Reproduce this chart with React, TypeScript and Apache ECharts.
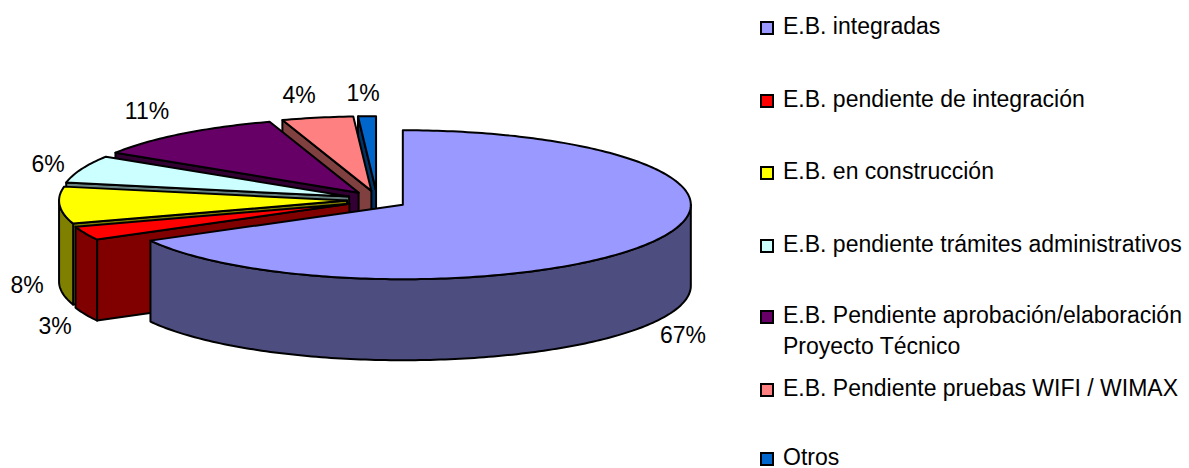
import React, { useEffect, useRef } from "react";
import * as echarts from "echarts";

// Shares of each base-station status, in percent, in legend order.
const categories = [
  ["E.B. integradas"],
  ["E.B. pendiente de integración"],
  ["E.B. en construcción"],
  ["E.B. pendiente trámites administrativos"],
  ["E.B. Pendiente aprobación/elaboración", "Proyecto Técnico"],
  ["E.B. Pendiente pruebas WIFI / WIMAX"],
  ["Otros"],
];
const shares = [67, 3, 8, 6, 11, 4, 1];
const topColors = ["#9999FF", "#FF0000", "#FFFF00", "#CCFFFF", "#660066", "#FF8080", "#0066CC"];
const sideColors = ["#4D4D80", "#800000", "#808000", "#668080", "#330033", "#804040", "#003366"];

// Placement of the percentage labels and legend rows.
const labelAnchors: [number, number][] = [
  [683, 334], [55, 325], [27, 284], [48, 163], [147, 110], [299, 94], [363, 92],
];
const legendBaselines = [33, 106, 178, 251, 322, 395, 464];
const LEGEND_LINE = 31;
const LEGEND_TEXT_X = 783;

// Projected pie geometry.
const CX = 377;
const CY = 200;
const RX = 288;
const RY = 74.5;
const DEPTH = 81;
const EXPLODE_X = 30;
const EXPLODE_Y = 9.3;
const FONT = "Liberation Sans";
const FONT_SIZE = 23;

const total = shares.reduce((s, v) => s + v, 0);

// Angles run clockwise from twelve o'clock, in degrees.
const rim = (ox: number, oy: number, deg: number, drop = 0): number[] => {
  const r = (deg * Math.PI) / 180;
  return [ox + RX * Math.sin(r), oy - RY * Math.cos(r) + drop];
};

const arcPoints = (ox: number, oy: number, from: number, to: number, drop = 0): number[][] => {
  const pts: number[][] = [];
  const steps = Math.max(2, Math.ceil(to - from));
  for (let i = 0; i <= steps; i++) pts.push(rim(ox, oy, from + ((to - from) * i) / steps, drop));
  return pts;
};

const outline = { stroke: "#000", lineWidth: 2, lineJoin: "round" };

const renderSlice = (params: any, api: any) => {
  // Painted back to front: data index 0 is the last category.
  const idx = shares.length - 1 - params.dataIndex;
  const value = api.value(0);
  const before = shares.slice(0, idx).reduce((s, v) => s + v, 0);
  const a = (before / total) * 360;
  const b = a + (value / total) * 360;
  const mid = (((a + b) / 2) * Math.PI) / 180;
  const ox = CX + EXPLODE_X * Math.sin(mid);
  const oy = CY - EXPLODE_Y * Math.cos(mid);
  const children: any[] = [];
  const side = { fill: sideColors[idx], ...outline };

  // Leading cut face, seen only on the left half of the pie.
  if (a > 180) {
    children.push({
      type: "polygon",
      shape: { points: [[ox, oy], rim(ox, oy, a), rim(ox, oy, a, DEPTH), [ox, oy + DEPTH]] },
      style: side,
    });
  }
  // Outer wall, on the part of the rim that faces the viewer.
  const wallFrom = Math.max(a, 90);
  const wallTo = Math.min(b, 270);
  if (wallTo > wallFrom) {
    children.push({
      type: "polygon",
      shape: {
        points: [
          ...arcPoints(ox, oy, wallFrom, wallTo),
          ...arcPoints(ox, oy, wallFrom, wallTo, DEPTH).reverse(),
        ],
      },
      style: side,
    });
  }
  // Top face.
  children.push({
    type: "polygon",
    shape: { points: [[ox, oy], ...arcPoints(ox, oy, a, b)] },
    style: { fill: topColors[idx], ...outline },
  });
  return { type: "group", children };
};

const textItem = (text: string, x: number, y: number, align: string, verticalAlign: string) => ({
  type: "text",
  x,
  y,
  silent: true,
  style: { text, fill: "#000", fontFamily: FONT, fontSize: FONT_SIZE, align, verticalAlign },
});

// Text boxes are bottom-aligned; this shifts a baseline to the box bottom.
const DESCENT = 4;

const buildGraphics = () => {
  const items: any[] = [];
  shares.forEach((v, i) => {
    const [x, y] = labelAnchors[i];
    items.push(textItem(`${v}%`, x, y + 1, "center", "middle"));
  });
  categories.forEach((lines, i) => {
    const base = legendBaselines[i];
    items.push({
      type: "rect",
      shape: { x: 761, y: base - 11, width: 12, height: 12 },
      style: { fill: topColors[i], stroke: "#000", lineWidth: 2 },
    });
    lines.forEach((line, n) => {
      items.push(textItem(line, LEGEND_TEXT_X, base + n * LEGEND_LINE + DESCENT, "left", "bottom"));
    });
  });
  return items;
};

export default function App() {
  const ref = useRef<HTMLDivElement>(null);
  useEffect(() => {
    if (!ref.current) return;
    const chart = echarts.init(ref.current, undefined, { renderer: "svg" });
    chart.setOption({
      animation: false,
      backgroundColor: "#fff",
      series: [
        {
          type: "custom",
          coordinateSystem: "none",
          renderItem: renderSlice,
          clip: false,
          silent: true,
          data: [...shares].reverse(),
        },
      ],
      graphic: { elements: buildGraphics() },
    });
    return () => chart.dispose();
  }, []);
  return (
    <div
      ref={ref}
      style={{ position: "fixed", left: 0, top: 0, width: 1189, height: 468 }}
    />
  );
}
